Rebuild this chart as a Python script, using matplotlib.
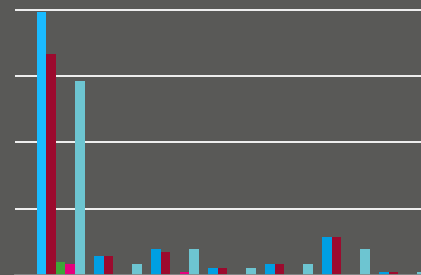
import matplotlib
matplotlib.use("Agg")
import matplotlib.pyplot as plt
import numpy as np

categories = ["G1", "G2", "G3", "G4", "G5", "G6", "G7"]
series_names = ["S1", "S2", "S3", "S4", "S5"]
s1 = [396.5, 28.6, 39.2, 10.6, 16.6, 57.3, 4.5]
s2 = [333.2, 28.6, 34.7, 10.6, 16.6, 57.3, 4.5]
s3 = [19.6, 0, 0, 0, 0, 0, 0]
s4 = [16.6, 0, 4.5, 0, 0, 0, 0]
s5 = [292.5, 16.6, 39.2, 10.6, 16.6, 39.2, 4.5]
series = [s1, s2, s3, s4, s5]
colors = ["#009FE3", "#9C0A2E", "#3DA638", "#E5007D", "#6DC5D1"]
highlight_color = "#1ABBFF"
yticks = [100, 200, 300, 400]

bg = "#595957"
fig = plt.figure(figsize=(4.21, 2.75), dpi=100)
fig.patch.set_facecolor(bg)
ax = fig.add_axes([15/421, 0, 406/421, 1])
ax.set_facecolor(bg)

x = np.arange(len(categories))
w = 1/6
for j, vals in enumerate(series):
    cols = [colors[j]] * len(vals)
    if j == 0:
        cols[0] = highlight_color
    ax.bar(x + (j - 2) * w, vals, width=w, color=cols, linewidth=0, zorder=3)

ax.set_xlim(-0.8026, 6.320)
ax.set_ylim(0, 414.6)
ax.set_yticks(yticks)
ax.yaxis.grid(True, color="white", linewidth=1.3, zorder=1)
ax.set_axisbelow(True)
ax.tick_params(left=False, bottom=False, labelleft=False, labelbottom=False)
for sp in ["top", "right", "left"]:
    ax.spines[sp].set_visible(False)
ax.spines["bottom"].set_color("#8a8a8a")
ax.spines["bottom"].set_linewidth(2)
ax.spines["bottom"].set_zorder(4)

fig.savefig("out.png", dpi=100, facecolor=bg)
